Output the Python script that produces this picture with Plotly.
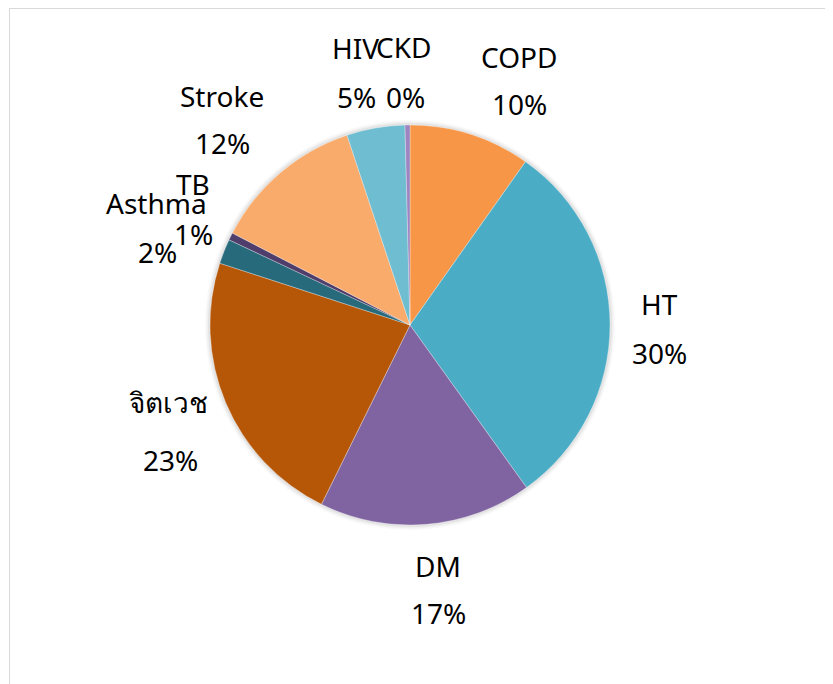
import plotly.graph_objects as go
import math

labels = ["COPD", "HT", "DM", "จิตเวช", "Asthma", "TB", "Stroke", "HIV", "CKD"]
values = [9.8, 30.3, 17.2, 22.7, 2.0, 0.6, 12.3, 4.7, 0.4]
colors = ["#F79646", "#4BACC6", "#8064A2", "#B65708", "#276A7C",
          "#4F3D6B", "#F9AB6C", "#6FBDD1", "#9C85C0"]

W, H = 833, 684
OFF = 8  # page body margin offset in the browser
total = sum(values)
pct = [f"{math.floor(v / total * 100 + 0.5)}%" for v in values]

# label anchor positions in page pixels: (x_name, y_name, x_pct, y_pct)
label_pos = {
    "COPD": (519, 57, 519, 104), "HT": (659, 304, 659, 353),
    "DM": (438, 566, 438, 613), "จิตเวช": (168, 402, 170, 460),
    "Asthma": (156, 203, 157, 252), "TB": (193, 184, 193, 234),
    "Stroke": (222, 96, 222, 143), "HIV": (355, 48, 356, 97),
    "CKD": (403, 47, 405, 97),
}


def px(x):
    return (x - OFF) / W


def py(y):
    return 1 - (y - OFF) / H


cx, cy, r = 410, 325, 200
fig = go.Figure()

# soft halo/shadow around the pie
for dr, a in [(5, 0.025), (3.5, 0.035), (2, 0.05)]:
    rr = r + dr
    fig.add_trace(go.Pie(
        values=[1], labels=["shadow"], sort=False, textinfo="none", hoverinfo="skip",
        marker=dict(colors=[f"rgba(0,0,0,{a})"], line=dict(width=0)), showlegend=False,
        domain=dict(x=[px(cx - rr), px(cx + rr)], y=[py(cy + rr), py(cy - rr)]),
    ))

fig.add_trace(go.Pie(
    labels=labels, values=values, sort=False, direction="clockwise", rotation=0,
    marker=dict(colors=colors, line=dict(color="rgba(255,255,255,0.6)", width=0.5)),
    textinfo="none", hoverinfo="label+percent", showlegend=False,
    domain=dict(x=[px(cx - r), px(cx + r)], y=[py(cy + r), py(cy - r)]),
))

font = dict(family="'Noto Sans', 'Open Sans', 'DejaVu Sans', sans-serif", size=28, color="#000000")
ann = []
for lab, p in zip(labels, pct):
    xn, yn, xp, yp = label_pos[lab]
    ann.append(dict(x=px(xn), y=py(yn), xref="paper", yref="paper", text=lab,
                    showarrow=False, font=font, xanchor="center", yanchor="middle"))
    ann.append(dict(x=px(xp), y=py(yp), xref="paper", yref="paper", text=p,
                    showarrow=False, font=font, xanchor="center", yanchor="middle"))

fig.update_layout(
    width=W, height=H, margin=dict(l=0, r=0, t=0, b=0),
    paper_bgcolor="white", plot_bgcolor="white",
    annotations=ann,
    shapes=[dict(type="rect", xref="paper", yref="paper",
                 x0=px(9.5), x1=1.05, y0=-0.05, y1=py(8.5),
                 line=dict(color="#D9D9D9", width=1))],
)
fig.write_html("out.html")
